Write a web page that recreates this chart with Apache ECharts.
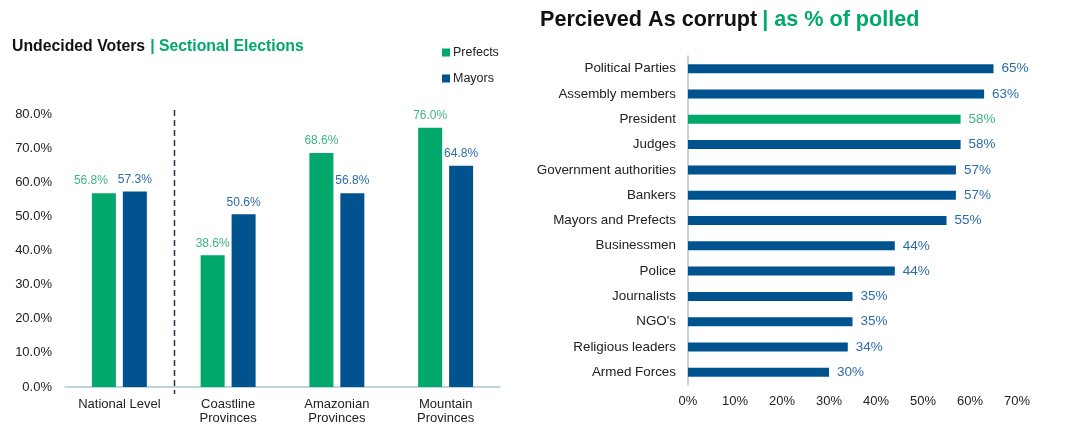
<!DOCTYPE html>
<html>
<head>
<meta charset="utf-8">
<script src="https://cdn.jsdelivr.net/npm/echarts@6/dist/echarts.min.js"></script>
<style>
  html, body { margin: 0; padding: 0; background: #ffffff; }
  #chart { width: 1065px; height: 425px; }
</style>
</head>
<body>
<div id="chart"></div>
<script>
// Undecided voters by region (percent)
const regions = ['National Level', 'Coastline\nProvinces', 'Amazonian\nProvinces', 'Mountain\nProvinces'];
const prefects = [56.8, 38.6, 68.6, 76.0];
const mayors = [57.3, 50.6, 56.8, 64.8];
const voterTicks = [0, 10, 20, 30, 40, 50, 60, 70, 80];

// Institutions perceived as corrupt (percent of polled)
const institutions = ['Political Parties', 'Assembly members', 'President', 'Judges',
  'Government authorities', 'Bankers', 'Mayors and Prefects', 'Businessmen', 'Police',
  'Journalists', "NGO's", 'Religious leaders', 'Armed Forces'];
const corruptShare = [65, 63, 58, 58, 57, 57, 55, 44, 44, 35, 35, 34, 30];
const highlighted = 'President';

const GREEN = '#00a96b';
const BLUE = '#00538f';
const GREEN_TEXT = '#3db580';
const BLUE_TEXT = '#2d6caa';
const FONT = 'Liberation Sans, Arial, Helvetica, sans-serif';

const chart = echarts.init(document.getElementById('chart'));

// The national prefects label is nudged left so it clears its neighbour
const prefectsData = prefects.map((v, i) => (
  i === 0 ? { value: v, label: { offset: [-13, 0] } } : { value: v }
));

const corruptData = corruptShare.map((v, i) => {
  const hl = institutions[i] === highlighted;
  return {
    value: v,
    itemStyle: { color: hl ? GREEN : BLUE },
    label: { color: hl ? GREEN_TEXT : BLUE_TEXT }
  };
});

const option = {
  animation: false,
  textStyle: { fontFamily: FONT },
  title: [
    {
      left: 12, top: 38, padding: 0,
      text: '{a|Undecided Voters} {b|| Sectional Elections}',
      textStyle: {
        rich: {
          a: { fontSize: 15.8, fontWeight: 'bold', color: '#111111', fontFamily: FONT },
          b: { fontSize: 15.8, fontWeight: 'bold', color: GREEN, fontFamily: FONT }
        }
      }
    },
    {
      left: 540, top: 9, padding: 0,
      text: '{a|Percieved As corrupt} {b|| as % of polled}',
      textStyle: {
        rich: {
          a: { fontSize: 21.6, fontWeight: 'bold', color: '#111111', fontFamily: FONT },
          b: { fontSize: 21.6, fontWeight: 'bold', color: GREEN, fontFamily: FONT }
        }
      }
    }
  ],
  legend: {
    data: ['Prefects', 'Mayors'],
    orient: 'vertical',
    left: 442, top: 46, padding: 0,
    icon: 'rect',
    itemWidth: 8, itemHeight: 8,
    itemGap: 13,
    textStyle: { fontSize: 12.5, color: '#222222', fontFamily: FONT, padding: [0, 0, 0, -2] }
  },
  grid: [
    { left: 65, right: 565, top: 114, bottom: 37 },
    { left: 688, right: 48, top: 56, bottom: 40 }
  ],
  xAxis: [
    {
      gridIndex: 0,
      type: 'category',
      data: regions,
      axisLine: { lineStyle: { color: '#a9c6d3', width: 1.5 } },
      axisTick: { show: false },
      axisLabel: { fontSize: 13, color: '#222222', margin: 10, lineHeight: 14, fontFamily: FONT }
    },
    {
      gridIndex: 1,
      type: 'value',
      min: 0, max: 70, interval: 10,
      axisLine: { show: false },
      axisTick: { show: false },
      splitLine: { show: false },
      axisLabel: { fontSize: 13, color: '#222222', margin: 10, formatter: '{value}%', fontFamily: FONT }
    }
  ],
  yAxis: [
    {
      gridIndex: 0,
      type: 'value',
      min: voterTicks[0], max: voterTicks[voterTicks.length - 1], interval: 10,
      axisLine: { show: false },
      axisTick: { show: false },
      splitLine: { show: false },
      axisLabel: {
        fontSize: 13, color: '#222222', margin: 13, fontFamily: FONT,
        formatter: v => v.toFixed(1) + '%'
      }
    },
    {
      gridIndex: 1,
      type: 'category',
      inverse: true,
      data: institutions,
      axisLine: { lineStyle: { color: '#a9c6d3', width: 1.5 } },
      axisTick: { show: false },
      axisLabel: { fontSize: 13.4, color: '#222222', margin: 12, fontFamily: FONT }
    }
  ],
  series: [
    {
      name: 'Prefects',
      type: 'bar',
      xAxisIndex: 0, yAxisIndex: 0,
      data: prefectsData,
      barWidth: 24,
      barGap: '29%',
      itemStyle: { color: GREEN },
      label: {
        show: true, position: 'top', distance: 6,
        fontSize: 12, color: GREEN_TEXT, fontFamily: FONT,
        formatter: p => p.value.toFixed(1) + '%'
      }
    },
    {
      name: 'Mayors',
      type: 'bar',
      xAxisIndex: 0, yAxisIndex: 0,
      data: mayors,
      barWidth: 24,
      barGap: '29%',
      itemStyle: { color: BLUE },
      label: {
        show: true, position: 'top', distance: 6,
        fontSize: 12, color: BLUE_TEXT, fontFamily: FONT,
        formatter: p => p.value.toFixed(1) + '%'
      }
    },
    {
      name: 'Perceived corrupt',
      type: 'bar',
      xAxisIndex: 1, yAxisIndex: 1,
      data: corruptData,
      barWidth: 9,
      label: {
        show: true, position: 'right', distance: 8,
        fontSize: 13.5, fontFamily: FONT,
        formatter: '{c}%'
      }
    }
  ]
};

chart.setOption(option);

// Dashed divider between the national figure and the regional breakdown
const xa = chart.convertToPixel({ xAxisIndex: 0 }, regions[0]);
const xb = chart.convertToPixel({ xAxisIndex: 0 }, regions[1]);
const yTop = chart.convertToPixel({ yAxisIndex: 0 }, voterTicks[voterTicks.length - 1]);
const yBase = chart.convertToPixel({ yAxisIndex: 0 }, voterTicks[0]);
const xDiv = Math.round((xa + xb) / 2) + 0.5;
chart.setOption({
  graphic: [{
    type: 'line',
    shape: { x1: xDiv, y1: yTop - 4, x2: xDiv, y2: yBase + 7 },
    style: { stroke: '#1f3448', lineWidth: 1.5, lineDash: [6, 4] },
    silent: true
  }]
});
</script>
</body>
</html>
